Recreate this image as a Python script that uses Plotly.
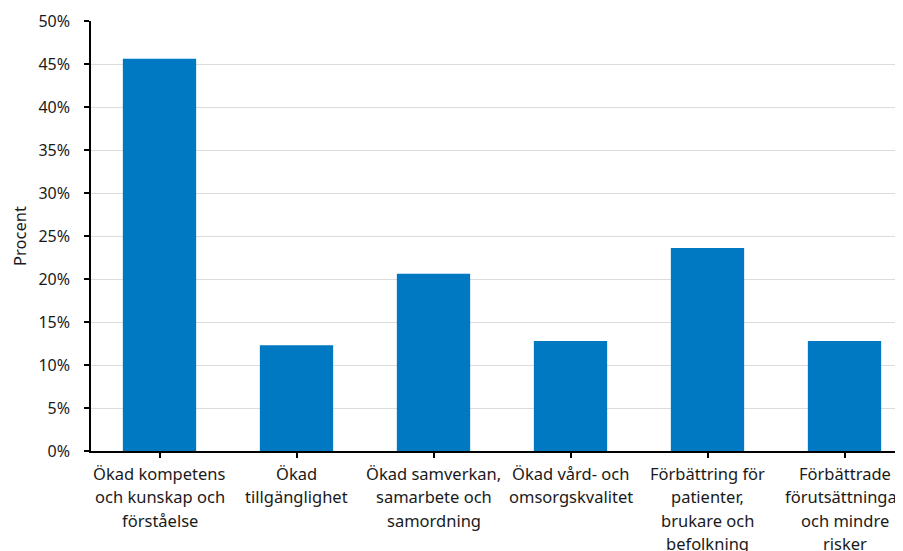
import plotly.graph_objects as go

categories = [
    "Ökad kompetens<br>och kunskap och<br>förståelse",
    "Ökad<br>tillgänglighet",
    "Ökad samverkan,<br>samarbete och<br>samordning",
    "Ökad vård- och<br>omsorgskvalitet",
    "Förbättring för<br>patienter,<br>brukare och<br>befolkning",
    "Förbättrade<br>förutsättningar<br>och mindre<br>risker",
]
values = [45.6, 12.3, 20.6, 12.8, 23.6, 12.8]
y_tickvals = [0, 5, 10, 15, 20, 25, 30, 35, 40, 45, 50]
y_ticktext = [f"{v}%" for v in y_tickvals]

FONT = "Noto Sans"
TXT = "#1a1a1a"
LINE_H = 23.3

xs = list(range(len(categories)))

fig = go.Figure(
    go.Bar(
        x=xs,
        y=values,
        marker=dict(color="#0079C2", line=dict(width=0)),
        width=0.535,
        hoverinfo="skip",
    )
)

annotations = []
for i, lab in zip(xs, categories):
    for k, line in enumerate(lab.split("<br>")):
        annotations.append(
            dict(
                x=i, y=0, xref="x", yref="y",
                text=line, showarrow=False,
                xanchor="center", yanchor="top", yshift=-9 - k * LINE_H,
                align="center",
                font=dict(family=FONT, size=16.5, color=TXT),
            )
        )

fig.update_layout(
    width=895,
    height=543,
    margin=dict(l=83, r=0, t=13, b=100, autoexpand=False),
    paper_bgcolor="white",
    plot_bgcolor="white",
    showlegend=False,
    font=dict(family=FONT, size=16, color=TXT),
    annotations=annotations,
    xaxis=dict(
        tickmode="array",
        tickvals=xs,
        ticktext=[""] * len(xs),
        range=[-0.5, 5.427],
        tickson="boundaries",
        ticks="outside",
        ticklen=5,
        tickcolor="black",
        tickwidth=1.5,
        showline=True,
        linecolor="black",
        linewidth=1.5,
        showgrid=False,
        zeroline=False,
        automargin=False,
    ),
    yaxis=dict(
        range=[0, 50],
        tickmode="array",
        tickvals=y_tickvals,
        ticktext=y_ticktext,
        ticks="outside",
        ticklen=5,
        tickcolor="black",
        tickwidth=1.5,
        showline=True,
        linecolor="black",
        linewidth=1.5,
        showgrid=True,
        gridcolor="#dcdcdc",
        gridwidth=1,
        zeroline=False,
        tickfont=dict(family=FONT, size=16, color=TXT),
        ticklabelstandoff=11,
        title=dict(text="Procent", font=dict(family=FONT, size=16.5, color=TXT), standoff=20),
        automargin=False,
    ),
)

fig.write_html("out.html")
